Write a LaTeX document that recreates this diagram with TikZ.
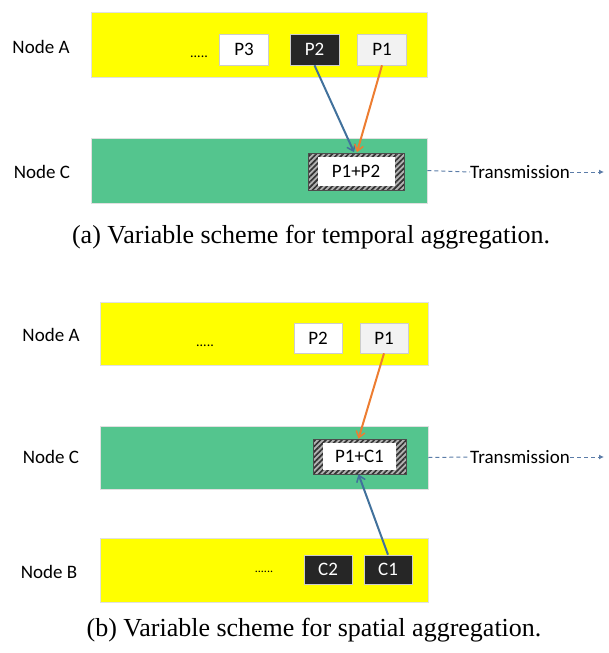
\documentclass[tikz,border=0pt]{standalone}
\usepackage{fontspec}
\setmainfont{Liberation Serif}
\newfontfamily\lab{Carlito}
\usetikzlibrary{arrows.meta,patterns.meta}
\definecolor{yel}{RGB}{255,255,0}
\definecolor{grn}{RGB}{84,197,142}
\definecolor{blu}{RGB}{65,113,156}
\definecolor{org}{RGB}{237,125,49}
\definecolor{trc}{RGB}{91,124,168}
\definecolor{pdark}{RGB}{38,38,38}
\definecolor{plight}{RGB}{242,242,242}
\begin{document}
\begin{tikzpicture}[x=1pt,y=-1pt,
  every node/.style={font=\lab\fontsize{19}{22}\selectfont, inner sep=0pt},
  lanebox/.style={draw=black!12, line width=0.8pt, minimum height=65, minimum width=336},
  ylane/.style={lanebox, fill=yel},
  glane/.style={lanebox, fill=grn},
  pkt/.style={draw=black!20, line width=0.6pt, minimum width=49, minimum height=31},
  pwhite/.style={pkt, fill=white},
  plite/.style={pkt, fill=plight},
  pblack/.style={pkt, fill=pdark, text=white},
  hatch/.style={draw=black!70, line width=0.6pt,
    preaction={fill=black!30},
    pattern={Lines[angle=45,distance=3.8pt,line width=1.7pt]}, pattern color=black!80},
  inner/.style={fill=white},
  dots/.style={font=\lab\fontsize{14}{16}\selectfont},
  link/.style={line width=2pt, -{Straight Barb[length=6pt,width=9pt,line width=1.5pt]}},
  trans/.style={trc, dashed, dash pattern=on 4pt off 3pt, line width=1pt},
  captext/.style={font=\rmfamily\fontsize{26}{30}\selectfont}
]
\useasboundingbox (0,0) rectangle (609,653);

% ---------- panel (a) ----------
\node (la) at (41,47) {Node A};
\node (lc) at (42,172) {Node C};
\node[ylane] (ya) at (259,44.5) {};
\node[glane] (ga) at (259,170.5) {};
\node[dots] (da) at (199,57) {.....};
\node[pwhite] (p3) at (244,49.5) {P3};
\node[pblack] (p2) at (314.5,49.5) {P2};
\node[plite] (p1) at (382,49.5) {P1};
\node[hatch, minimum width=96, minimum height=37] (ha) at (356,171.5) {};
\node[inner, minimum width=77, minimum height=29] (hai) at (356,171.5) {P1+P2};
\draw[link, blu] (p2.south) -- ([xshift=-2pt]ha.north);
\draw[link, org] (p1.south) -- ([xshift=1pt]ha.north);
\node (ta) at (520,172) {Transmission};
\coordinate (ea) at (604,172);
\draw[trans] (ga.east) -- (ta.west);
\draw[trans, -{Latex[length=5pt,width=5pt]}] (ta.east) -- (ea);
\node[captext] (capa) at (311,237) {(a) Variable scheme for temporal aggregation.};

% ---------- panel (b) ----------
\node (lba) at (51,335) {Node A};
\node (lbc) at (51,457) {Node C};
\node (lbb) at (49,572) {Node B};
\node[ylane, minimum width=328, minimum height=63] (yb) at (264,333.5) {};
\node[glane, minimum width=328, minimum height=63] (gb) at (264,457.5) {};
\node[ylane, minimum width=328, minimum height=64] (yc) at (264,570) {};
\node[dots] (db) at (205,346) {.....};
\node[pwhite, minimum width=48, minimum height=30] (q2) at (318,338) {P2};
\node[plite, minimum width=48, minimum height=30] (q1) at (384,338) {P1};
\node[dots, font=\lab\fontsize{12}{14}\selectfont] (dc) at (264,572) {......};
\node[pblack, minimum width=48, minimum height=29] (c2) at (328,569.5) {C2};
\node[pblack, minimum width=48, minimum height=29] (c1) at (388,569.5) {C1};
\node[hatch, minimum width=93, minimum height=35] (hb) at (359.5,456.5) {};
\node[inner, minimum width=73, minimum height=27] (hbi) at (359.5,456.5) {P1+C1};
\draw[link, org] (q1.south) -- ([xshift=-1pt]hb.north);
\draw[link, blu] (c1.north) -- ([xshift=-1pt]hb.south);
\node (tb) at (520,457) {Transmission};
\coordinate (eb) at (604,457);
\draw[trans] (gb.east) -- (tb.west);
\draw[trans, -{Latex[length=5pt,width=5pt]}] (tb.east) -- (eb);
\node[captext] (capb) at (314,630) {(b) Variable scheme for spatial aggregation.};
\end{tikzpicture}
\end{document}
